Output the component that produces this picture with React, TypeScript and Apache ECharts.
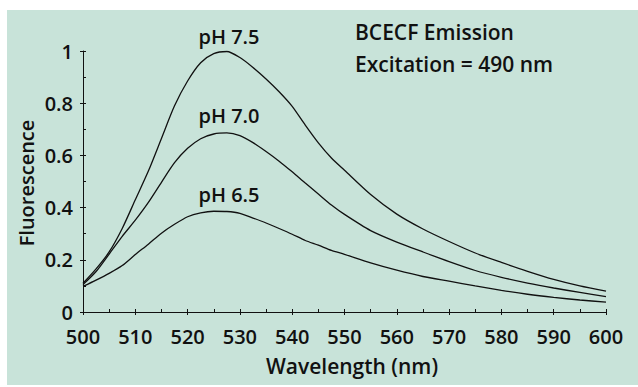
import { useEffect, useRef } from "react";
import * as echarts from "echarts";

const wavelengths = [500, 502.5, 505, 507.5, 510, 512.5, 515, 517.5, 520, 522.5, 525, 527.5, 530, 532.5, 535, 537.5, 540, 542.5, 545, 547.5, 550, 555, 560, 565, 570, 575, 580, 585, 590, 595, 600];
const ph75 = [0.11, 0.165, 0.23, 0.32, 0.43, 0.54, 0.665, 0.79, 0.885, 0.955, 0.99, 0.998, 0.975, 0.937, 0.893, 0.844, 0.788, 0.716, 0.648, 0.59, 0.543, 0.45, 0.375, 0.318, 0.27, 0.226, 0.19, 0.156, 0.125, 0.1, 0.08];
const ph70 = [0.105, 0.155, 0.222, 0.29, 0.352, 0.42, 0.497, 0.572, 0.627, 0.664, 0.682, 0.686, 0.676, 0.649, 0.615, 0.578, 0.537, 0.494, 0.452, 0.41, 0.374, 0.312, 0.268, 0.23, 0.193, 0.159, 0.133, 0.111, 0.092, 0.075, 0.059];
const ph65 = [0.098, 0.122, 0.148, 0.178, 0.22, 0.26, 0.302, 0.336, 0.365, 0.38, 0.386, 0.385, 0.378, 0.36, 0.341, 0.32, 0.298, 0.274, 0.256, 0.236, 0.221, 0.188, 0.16, 0.136, 0.118, 0.1, 0.083, 0.068, 0.056, 0.046, 0.038];
const xTicks = { min: 500, max: 600, interval: 10 };
const yTicks = { min: 0, max: 1, interval: 0.2 };
const seriesLabels = ["pH 7.5", "pH 7.0", "pH 6.5"];
const titleLines = ["BCECF Emission", "Excitation = 490 nm"];
const xName = "Wavelength (nm)";
const yName = "Fluorescence";

const FONT = '"Open Sans", "Noto Sans", sans-serif';
const INK = "#111";

export default function App() {
  const ref = useRef<HTMLDivElement>(null);
  useEffect(() => {
    if (!ref.current) return;
    const chart = echarts.init(ref.current, undefined, { renderer: "svg" });
    const mk = (vals: number[]) => wavelengths.map((w, i) => [w, vals[i]]);
    const txt = (text: string, x: number, y: number, size: number, align = "center", rotation = 0) => ({
      type: "text",
      x,
      y,
      rotation,
      style: {
        text,
        fill: INK,
        fontSize: size,
        fontWeight: 600,
        fontFamily: FONT,
        align,
        verticalAlign: "middle",
      },
    });
    const labelStyle = { fontSize: 20, fontWeight: 600, color: INK, fontFamily: FONT };
    chart.setOption({
      animation: false,
      grid: { left: 83, right: 32, top: 51, bottom: 75 },
      xAxis: [
        {
          type: "value",
          ...xTicks,
          axisLine: { onZero: false, lineStyle: { color: INK, width: 1 } },
          axisTick: { inside: false, length: 3, lineStyle: { color: INK } },
          axisLabel: { ...labelStyle, margin: 14 },
          splitLine: { show: false },
        },
        {
          type: "value",
          ...xTicks,
          position: "bottom",
          axisLine: { show: false, onZero: false },
          axisTick: { inside: true, length: 3, lineStyle: { color: INK } },
          minorTick: { show: true, splitNumber: 2, length: 3, lineStyle: { color: INK } },
          axisLabel: { show: false },
          splitLine: { show: false },
        },
      ],
      yAxis: [
        {
          type: "value",
          ...yTicks,
          axisLine: { show: true, onZero: false, lineStyle: { color: INK, width: 1 } },
          axisTick: { show: true, inside: false, length: 3, lineStyle: { color: INK } },
          axisLabel: { ...labelStyle, margin: 10 },
          splitLine: { show: false },
        },
        {
          type: "value",
          ...yTicks,
          position: "left",
          axisLine: { show: false, onZero: false },
          axisTick: { show: true, inside: true, length: 3, lineStyle: { color: INK } },
          minorTick: { show: true, splitNumber: 2, length: 3, lineStyle: { color: INK } },
          axisLabel: { show: false },
          splitLine: { show: false },
        },
      ],
      series: [ph75, ph70, ph65].map((vals, i) => ({
        type: "line",
        name: seriesLabels[i],
        xAxisIndex: 0,
        yAxisIndex: 0,
        data: mk(vals),
        showSymbol: false,
        smooth: 0.25,
        lineStyle: { color: INK, width: 1.3 },
      })),
      graphic: [
        txt(seriesLabels[0], 229, 36, 20),
        txt(seriesLabels[1], 229, 115, 20),
        txt(seriesLabels[2], 229, 194, 20),
        txt(titleLines[0], 355, 32, 21, "left"),
        txt(titleLines[1], 355, 63.5, 21, "left"),
        txt(xName, 352, 366, 21),
        txt(yName, 26, 183, 20, "center", Math.PI / 2),
      ],
    });
    return () => chart.dispose();
  }, []);
  return (
    <div style={{ position: "fixed", left: 0, top: 0, width: 638, height: 387, background: "#fff" }}>
      <div style={{ position: "absolute", left: 7, top: 10, width: 631, height: 375, background: "#c8e3d9" }} />
      <div ref={ref} style={{ position: "absolute", left: 0, top: 0, width: 638, height: 387 }} />
    </div>
  );
}
